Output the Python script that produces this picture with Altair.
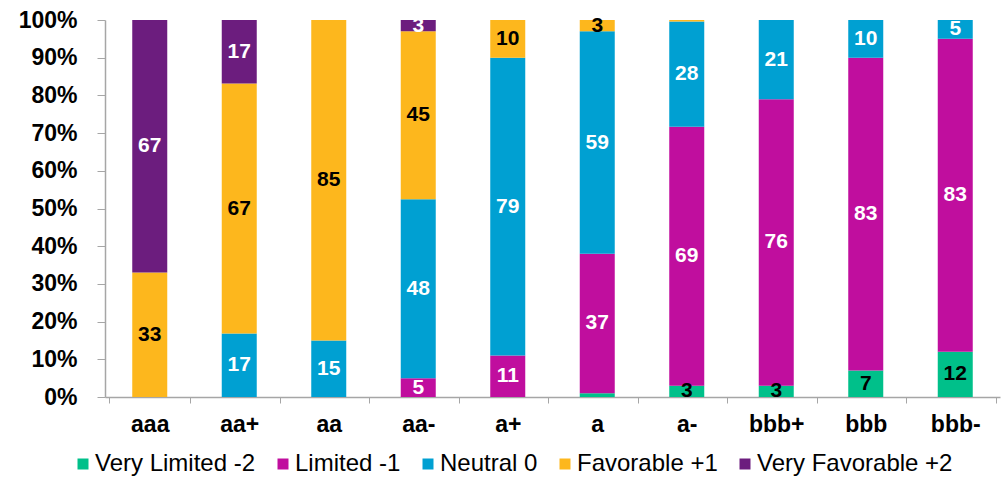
import altair as alt
import pandas as pd

# Ratings along the x axis
ratings = ["aaa", "aa+", "aa", "aa-", "a+", "a", "a-", "bbb+", "bbb", "bbb-"]

# Response categories, bottom of the stack first
series = ["Very Limited -2", "Limited -1", "Neutral 0", "Favorable +1", "Very Favorable +2"]

# Share of responses (%) per rating
very_limited = [0, 0, 0, 0, 0, 1, 3, 3, 7, 12]
limited = [0, 0, 0, 5, 11, 37, 69, 76, 83, 83]
neutral = [0, 17, 15, 48, 79, 59, 28, 21, 10, 5]
favorable = [33, 67, 85, 45, 10, 3, 0.4, 0, 0, 0]
very_favorable = [67, 17, 0, 3, 0, 0, 0, 0, 0, 0]

# Percent tick positions on the y axis
y_ticks = [0, 0.1, 0.2, 0.3, 0.4, 0.5, 0.6, 0.7, 0.8, 0.9, 1.0]

colors = ["#00C08A", "#C00E9E", "#00A0D2", "#FDB71D", "#6C1D7E"]

FONT = "Liberation Sans"
AXIS_GREY = "#A6A6A6"

rows = []
for order, (name, values) in enumerate(
    zip(series, [very_limited, limited, neutral, favorable, very_favorable])
):
    for rating, v in zip(ratings, values):
        rows.append({"rating": rating, "series": name, "order": order, "value": v})
df = pd.DataFrame(rows)

base = alt.Chart(df).transform_stack(
    stack="value",
    groupby=["rating"],
    as_=["y0", "y1"],
    offset="normalize",
    sort=[alt.SortField("order", order="ascending")],
)

x_axis = alt.Axis(
    title=None,
    labelAngle=0,
    labelFont=FONT,
    labelFontSize=23,
    labelFontWeight="bold",
    labelColor="#000000",
    labelPadding=10,
    tickBand="extent",
    tickSize=6,
    tickColor=AXIS_GREY,
    domainColor=AXIS_GREY,
    domainWidth=1.5,
    grid=False,
)

y_axis = alt.Axis(
    title=None,
    format=".0%",
    values=y_ticks,
    labelOverlap=False,
    labelFont=FONT,
    labelFontSize=23,
    labelFontWeight="bold",
    labelColor="#000000",
    labelPadding=20,
    tickSize=8,
    tickColor=AXIS_GREY,
    domainColor=AXIS_GREY,
    domainWidth=1.5,
    grid=False,
)

y_scale = alt.Scale(domain=[0, 1], nice=False)

bars = base.mark_bar(size=35).encode(
    x=alt.X("rating:N", sort=ratings, scale=alt.Scale(domain=ratings), axis=x_axis),
    y=alt.Y("y0:Q", scale=y_scale, axis=y_axis),
    y2="y1:Q",
    color=alt.Color(
        "series:N",
        scale=alt.Scale(domain=series, range=colors),
        legend=alt.Legend(
            title=None,
            orient="none",
            legendX=-34,
            legendY=432,
            direction="horizontal",
            columns=5,
            columnPadding=15,
            symbolType="square",
            symbolSize=121,
            symbolStrokeWidth=0,
            labelOffset=0,
            labelFont=FONT,
            labelFontSize=24,
            labelColor="#000000",
            labelLimit=400,
            padding=0,
        ),
    ),
)

labels = (
    base.transform_filter("datum.value >= 2")
    .transform_calculate(
        mid="(datum.y0 + datum.y1) / 2",
        label="format(datum.value, 'd')",
    )
    .mark_text(font=FONT, fontSize=21, fontWeight="bold", baseline="middle")
    .encode(
        x=alt.X("rating:N", sort=ratings, scale=alt.Scale(domain=ratings), axis=x_axis),
        y=alt.Y("mid:Q", scale=y_scale, axis=y_axis),
        text="label:N",
        color=alt.condition(
            alt.FieldOneOfPredicate(field="series", oneOf=["Very Limited -2", "Favorable +1"]),
            alt.value("#000000"),
            alt.value("#FFFFFF"),
        ),
    )
)

chart = (
    alt.layer(bars, labels)
    .properties(
        width=895,
        height=377,
        autosize=alt.AutoSizeParams(type="none"),
        padding={"left": 105, "top": 20, "right": 5, "bottom": 80},
    )
    .configure_view(stroke=None)
)

chart.save("out.html", embed_options={"renderer": "svg", "actions": False})
